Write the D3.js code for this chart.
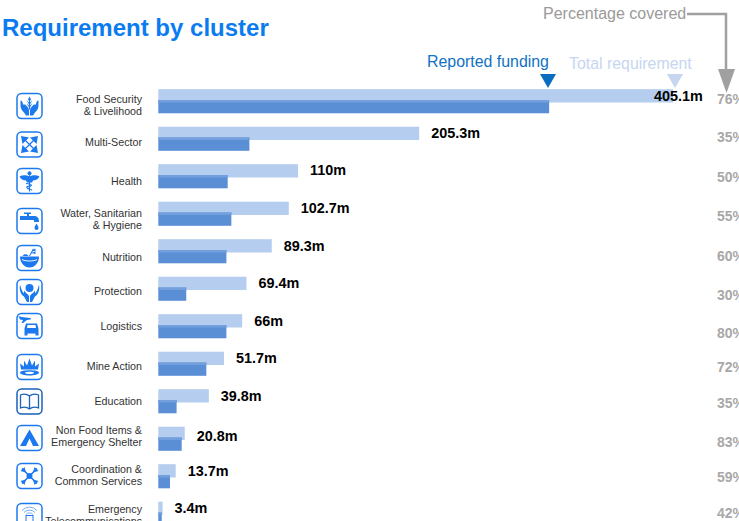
<!DOCTYPE html>
<html>
<head>
<meta charset="utf-8">
<script src="https://cdn.jsdelivr.net/npm/d3@7"></script>
<style>
  html, body { margin: 0; padding: 0; background: #fff; overflow: hidden; }
  svg { display: block; font-family: "Liberation Sans", Arial, sans-serif; }
</style>
</head>
<body>
<svg id="chart" width="739" height="521"></svg>
<script>
var categories = ["Food Security & Livelihood", "Multi-Sector", "Health", "Water, Sanitarian & Hygiene", "Nutrition", "Protection", "Logistics", "Mine Action", "Education", "Non Food Items & Emergency Shelter", "Coordination & Common Services", "Emergency Telecommunications"];
var categoryLines = [["Food Security", "& Livelihood"], ["Multi-Sector"], ["Health"], ["Water, Sanitarian", "& Hygiene"], ["Nutrition"], ["Protection"], ["Logistics"], ["Mine Action"], ["Education"], ["Non Food Items &", "Emergency Shelter"], ["Coordination &", "Common Services"], ["Emergency", "Telecommunications"]];
var requirement = [405.1, 205.3, 110, 102.7, 89.3, 69.4, 66, 51.7, 39.8, 20.8, 13.7, 3.4];
var funding = [307.6, 71.7, 54.6, 57.5, 53.6, 22, 53.6, 37.8, 14.4, 18.4, 9.2, 2.7];
var percent = [76, 35, 50, 55, 60, 30, 80, 72, 35, 83, 59, 42];
var icons = ["food", "multi", "health", "water", "nutrition", "protection", "logistics", "mine", "education", "tent", "coord", "telecom"];

// these rows are hand placed in the original, so labels get their own y
var labelY = [102.5, 145.5, 184.5, 216.8, 260.5, 294.5, 329.5, 369.5, 404.5, 433.5, 472.5, 512.5];
var iconY = [106, 144.5, 181, 221, 258, 292, 326, 367, 401.5, 438, 476, 516];
var pctY = [99, 137, 177, 216, 256, 295, 333, 367, 403, 442, 477, 513];
var valueY = [96, 133, 170, 208, 246, 283, 321, 358, 396, 436, 471, 508];

var dims = { left: 158.3, rowTop: 89.2, rowStep: 37.5, barH: 13.3, darkOffset: 10.8 };
var blue = "#1c78ee";

var svg = d3.select("#chart");

var xScale = d3.scaleLinear().domain([0, 405.1]).range([dims.left, 673]);
var yScale = d3.scaleBand()
  .domain(categories)
  .range([dims.rowTop, dims.rowTop + dims.rowStep * categories.length])
  .paddingInner(0)
  .paddingOuter(0);

var rows = categories.map(function (c, i) {
  return { name: c, lines: categoryLines[i], total: requirement[i], funded: funding[i], pct: percent[i], icon: icons[i], i: i };
});

// title and legend
svg.append("text").text("Requirement by cluster")
  .attr("x", 2).attr("y", 35.5)
  .attr("font-size", 24).attr("font-weight", "bold").attr("fill", "#0a7cf0");
svg.append("text").text("Percentage covered")
  .attr("x", 543).attr("y", 19).attr("font-size", 16).attr("fill", "#9a9a9a");
svg.append("text").text("Reported funding")
  .attr("x", 427).attr("y", 67).attr("font-size", 15.9).attr("fill", "#0f72c4");
svg.append("text").text("Total requirement")
  .attr("x", 569).attr("y", 69).attr("font-size", 15.9).attr("fill", "#c6d6f1");

svg.append("path").attr("d", "M540,74H556L548,88Z").attr("fill", "#0a6cc0");
svg.append("path").attr("d", "M667,74H683L675,88Z").attr("fill", "#c6d6f1");

// bars
svg.selectAll(".total").data(rows).enter().append("rect")
  .attr("class", "total")
  .attr("x", xScale(0))
  .attr("y", function (d) { return yScale(d.name); })
  .attr("width", function (d) { return xScale(d.total) - xScale(0); })
  .attr("height", dims.barH)
  .attr("fill", "#b5cdee");

svg.selectAll(".funded").data(rows).enter().append("rect")
  .attr("class", "funded")
  .attr("x", xScale(0))
  .attr("y", function (d) { return yScale(d.name) + dims.darkOffset; })
  .attr("width", function (d) { return xScale(d.funded) - xScale(0); })
  .attr("height", dims.barH)
  .attr("fill", "#5a8fd6");

// where the two bars overlap the original shows a lighter band
svg.selectAll(".overlap").data(rows).enter().append("rect")
  .attr("class", "overlap")
  .attr("x", xScale(0))
  .attr("y", function (d) { return yScale(d.name) + dims.darkOffset; })
  .attr("width", function (d) { return xScale(d.funded) - xScale(0); })
  .attr("height", dims.barH - dims.darkOffset)
  .attr("fill", "#73a0dc");

// value labels, the biggest one does not fit after the bar
svg.selectAll(".value").data(rows).enter().append("text")
  .attr("class", "value")
  .text(function (d) { return d.total + "m"; })
  .attr("x", function (d) { return d.total > 400 ? xScale(d.total) - 19 : xScale(d.total) + 12; })
  .attr("y", function (d) { return valueY[d.i]; })
  .attr("dy", "0.35em")
  .attr("font-size", 14.4).attr("font-weight", "bold").attr("fill", "#000");

// percentages, cut by the page edge as in the original
svg.selectAll(".pct").data(rows).enter().append("text")
  .attr("class", "pct")
  .text(function (d) { return d.pct + "%"; })
  .attr("x", 717)
  .attr("y", function (d) { return pctY[d.i]; })
  .attr("dy", "0.35em")
  .attr("font-size", 14).attr("font-weight", "bold").attr("fill", "#a8a8a8");

// connector from "Percentage covered" down to the column
svg.append("path").attr("d", "M687,14H726V72")
  .attr("fill", "none").attr("stroke", "#a0a0a0").attr("stroke-width", 2.5);
svg.append("path").attr("d", "M718,69H735L726.5,93Z").attr("fill", "#a0a0a0");

// category labels
var labels = svg.selectAll(".cat").data(rows).enter().append("text")
  .attr("class", "cat")
  .attr("text-anchor", "end")
  .attr("font-size", 10.7)
  .attr("fill", "#333");
labels.selectAll("tspan").data(function (d) {
  return d.lines.map(function (l, j) { return { text: l, y: labelY[d.i] + j * 12.6 }; });
}).enter().append("tspan")
  .attr("x", 142)
  .attr("y", function (d) { return d.y; })
  .text(function (d) { return d.text; });

// icons, drawn in a 25x25 box
var glyphs = {
  food: function (g) {
    g.append("path").attr("d", "M3.5,7C5,7 6,9 6,11L8,11C10,13 12,14 12,17V22H9L7,19C5,17 3.5,15 3.5,12ZM21.5,7C20,7 19,9 19,11L17,11C15,13 13,14 13,17V22H16L18,19C20,17 21.5,15 21.5,12Z");
    g.append("path").attr("d", "M12.5,3L14,6L12.5,8L11,6ZM9.5,6.5L12,9V11ZM15.5,6.5L13,9V11ZM9.5,9.5L12,12V14ZM15.5,9.5L13,12V14Z");
    g.append("rect").attr("x", 12).attr("y", 6).attr("width", 1).attr("height", 10);
  },
  multi: function (g) {
    g.append("path").attr("d", "M6,6L19,19M19,6L6,19").attr("stroke", blue).attr("stroke-width", 1.2);
    g.append("path").attr("d", "M4,4L12,5.5L5.5,12ZM21,4L13,5.5L19.5,12ZM4,21L12,19.5L5.5,13ZM21,21L13,19.5L19.5,13Z");
  },
  health: function (g) {
    g.append("circle").attr("cx", 12.5).attr("cy", 4.8).attr("r", 2);
    g.append("path").attr("d", "M2.5,8C6,6 10,7 12.5,8C15,7 19,6 22.5,8C21,11 18,12 16,12L15,14H10L9,12C7,12 4,11 2.5,8Z");
    g.append("rect").attr("x", 11.9).attr("y", 6).attr("width", 1.2).attr("height", 17);
    g.append("path").attr("d", "M9,15C16,15.5 16,18 10,18C9,21 15,20 15,22").attr("fill", "none").attr("stroke", blue).attr("stroke-width", 1.2);
  },
  water: function (g) {
    g.append("path").attr("d", "M3,7.5H10V5.5H7V4H14V5.5H12V7.5H17C21,7.5 22,10 22,13.5H17V11.5H3Z");
    g.append("path").attr("d", "M19.5,15C20.5,17 21.5,18 21.5,19.5A2,2 0 0 1 17.5,19.5C17.5,18 18.5,17 19.5,15Z");
  },
  nutrition: function (g) {
    g.append("path").attr("d", "M3,11H22C22,17 18,22 12.5,22C7,22 3,17 3,11Z");
    g.append("path").attr("d", "M5.5,10.5C7,8 10,8 11.5,10.5ZM12,10.5L16,3L17,4L13,10.5Z");
    g.append("path").attr("d", "M15,5L18.5,3V6ZM14,7.5L18.5,6V8.5Z");
    g.append("path").attr("d", "M5,14C8,16 17,16 20,14").attr("fill", "none").attr("stroke", "#fff").attr("stroke-width", 1);
  },
  protection: function (g) {
    g.append("circle").attr("cx", 12.5).attr("cy", 8.5).attr("r", 4);
    g.append("path").attr("d", "M3,5C2,11 4,15 7,17L10,22.5H12V17C12,15 9,14 7,11L7,14C5,12 4,9 3,5ZM22,5C23,11 21,15 18,17L15,22.5H13V17C13,15 16,14 18,11L18,14C20,12 21,9 22,5Z");
  },
  logistics: function (g) {
    g.append("path").attr("d", "M1.5,2.5L4.5,3.5L13,4.5C15,5 14,6 13,6L10,6.5L6,9.5H4.5L6,6.5L3,6Z");
    g.append("path").attr("d", "M9,10H20L21.5,15V22H18.5V20H10.5V22H7.5V15ZM10.5,11.5L10,14.5H19L18.5,11.5Z");
  },
  mine: function (g) {
    g.append("path").attr("d", "M4,15L3,9L7,12L7,6L10,11L12.5,4L15,11L18,6L18,12L22,9L21,15Z");
    g.append("path").attr("fill-rule", "evenodd").attr("d", "M3,18C3,15 22,15 22,18C22,22 3,22 3,18ZM8,18C8,20 17,20 17,18C17,17 8,17 8,18Z");
  },
  education: function (g) {
    g.append("path").attr("d", "M12.5,7C10,5 6,5 3.5,6V19C6,18 10,18 12.5,20C15,18 19,18 21.5,19V6C19,5 15,5 12.5,7ZM12.5,7V20")
      .attr("fill", "none").attr("stroke", "#1a62b8").attr("stroke-width", 1.3);
  },
  tent: function (g) {
    g.append("path").attr("d", "M12.5,4L22,20.5H16L12.5,13L9,20.5H3Z");
  },
  coord: function (g) {
    g.append("circle").attr("cx", 12.5).attr("cy", 12.5).attr("r", 3);
    g.append("path").attr("d", "M5,5L20,20M20,5L5,20").attr("stroke", blue).attr("stroke-width", 1.6);
    g.append("path").attr("d", "M9,9L3.5,7.5L7.5,3.5ZM16,9L21.5,7.5L17.5,3.5ZM9,16L3.5,17.5L7.5,21.5ZM16,16L21.5,17.5L17.5,21.5Z");
  },
  telecom: function (g) {
    g.append("path").attr("d", "M5,7A10,10 0 0 1 20,7M7,9A7.5,7.5 0 0 1 18,9M9,11A4.5,4.5 0 0 1 16,11").attr("fill", "none").attr("stroke", "#7aaef0");
    g.append("rect").attr("x", 9).attr("y", 12).attr("width", 7).attr("height", 11).attr("fill", "none").attr("stroke", blue);
  }
};

var iconGroups = svg.selectAll(".icon").data(rows).enter().append("g")
  .attr("class", "icon")
  .attr("transform", function (d) { return "translate(17," + (iconY[d.i] - 12.5) + ")"; })
  .attr("fill", blue);
iconGroups.append("rect")
  .attr("width", 25).attr("height", 25).attr("rx", 4.5)
  .attr("fill", "#fff")
  .attr("stroke", function (d) { return d.icon === "education" ? "#1a62b8" : blue; })
  .attr("stroke-width", 1.5);
iconGroups.each(function (d) { glyphs[d.icon](d3.select(this)); });
</script>
</body>
</html>
